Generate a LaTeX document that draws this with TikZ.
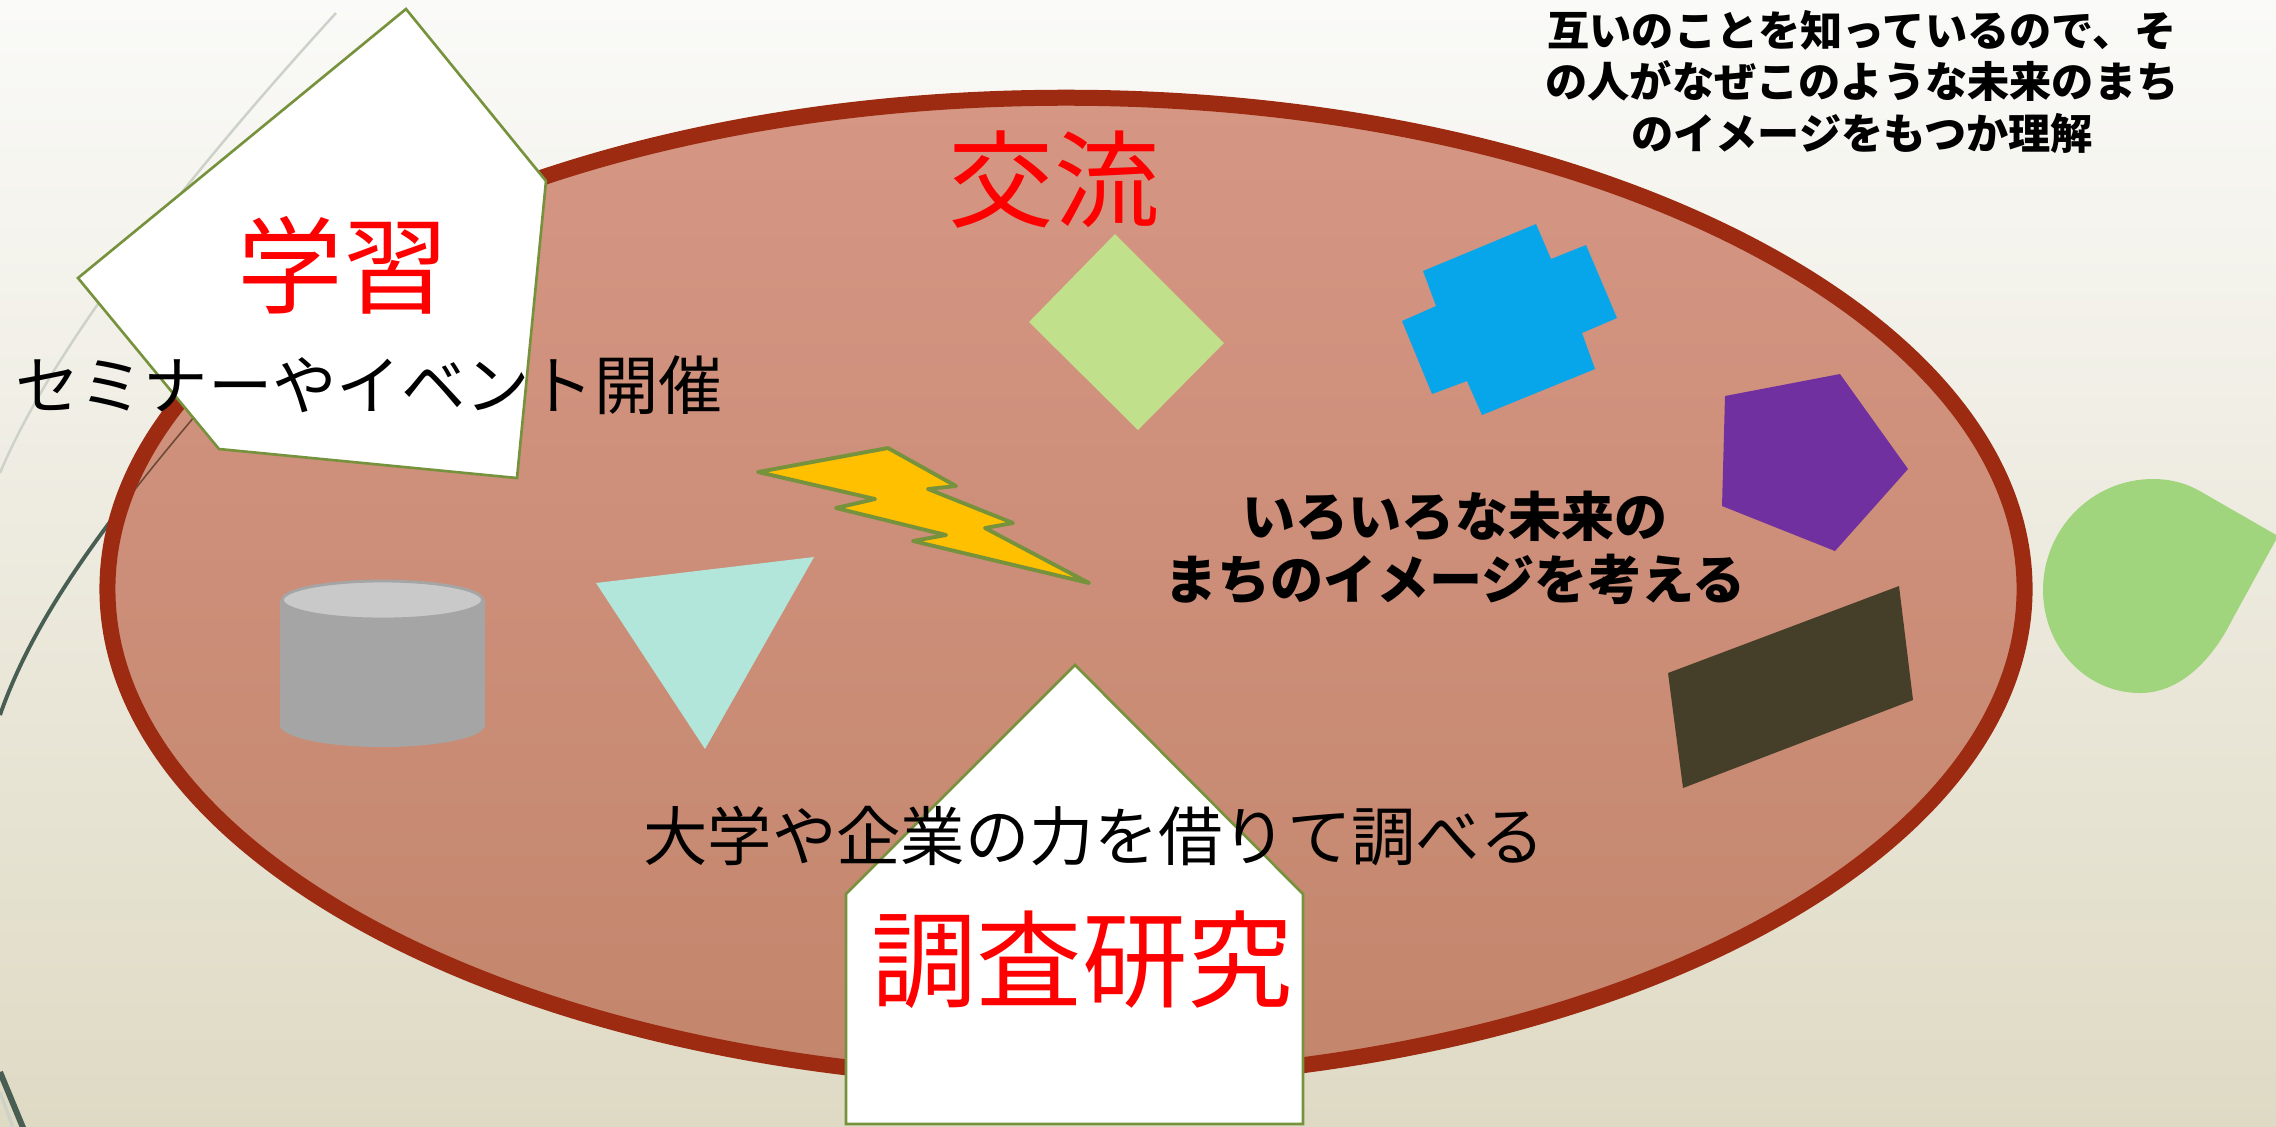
\documentclass[tikz,border=0pt]{standalone}
\usepackage{fontspec}
\setmainfont{Noto Sans CJK JP}
\definecolor{bgtop}{RGB}{250,250,248}
\definecolor{bgbot}{RGB}{223,218,196}
\definecolor{elltop}{RGB}{213,150,132}
\definecolor{ellbot}{RGB}{195,134,108}
\definecolor{ellstroke}{RGB}{156,43,17}
\definecolor{pgreen}{RGB}{118,146,60}
\definecolor{diamondc}{RGB}{193,224,139}
\definecolor{bluec}{RGB}{7,166,235}
\definecolor{purplec}{RGB}{112,48,160}
\definecolor{darkc}{RGB}{69,63,41}
\definecolor{tealc}{RGB}{179,230,218}
\definecolor{goldc}{RGB}{255,192,0}
\definecolor{cylbody}{RGB}{165,165,165}
\definecolor{cyltop}{RGB}{201,201,201}
\definecolor{teardropc}{RGB}{160,212,125}
\definecolor{curvedark}{RGB}{72,94,82}
\definecolor{curvelight}{RGB}{205,210,200}
\definecolor{curvebrown}{RGB}{110,72,56}
\tikzset{
  penta/.style={fill=white, draw=pgreen, line width=0.75pt, line join=miter},
  redlabel/.style={inner sep=0pt, text=red, font=\fontsize{30}{36}\selectfont},
  blacklabel/.style={inner sep=0pt, text=black, font=\fontsize{18.3}{22}\selectfont},
  midlabel/.style={inner sep=0pt, text=black, align=center, font=\bfseries\fontsize{15.1}{17.9}\selectfont},
  toplabel/.style={inner sep=0pt, text=black, align=center, font=\bfseries\fontsize{12}{14.65}\selectfont},
}
\begin{document}
\begin{tikzpicture}[x=0.01cm,y=-0.01cm]
\useasboundingbox (0,0) rectangle (2276,1126);
% background
\shade[top color=bgtop,bottom color=bgbot] (0,0) rectangle (2276,1126);
% decorative curves
\draw[curvelight, line width=0.7pt] (336,13) .. controls (220,140) and (60,330) .. (0,473);
\draw[curvedark, line width=1.1pt] (0,715) .. controls (40,600) and (130,490) .. (260,340);
\draw[curvelight, line width=0.9pt] (0,1092) -- (14,1130);
\draw[curvedark, line width=1.7pt] (0,1072) -- (24,1130);
% big ellipse
\draw[line width=4.55pt, draw=ellstroke, top color=elltop, bottom color=ellbot] (1066,589) ellipse [x radius=9.58cm, y radius=4.91cm];
\begin{scope}
  \clip (1066,589) ellipse [x radius=9.5cm, y radius=4.83cm];
  \draw[curvebrown, line width=0.45pt] (0,715) .. controls (40,600) and (130,490) .. (260,340);
\end{scope}
% shapes
\fill[diamondc] (1115,234) -- (1224,343) -- (1138,430) -- (1029,322) -- cycle;
\fill[bluec] (1536,224) -- (1551,259) -- (1586,245) -- (1617,318) -- (1582,333) -- (1595,369) -- (1482,415) -- (1467,381) -- (1432,394) -- (1402,321) -- (1436,306) -- (1423,271) -- cycle;
\fill[purplec] (1840,374) -- (1908,469) -- (1835,551) -- (1722,506) -- (1725,396) -- cycle;
\fill[darkc] (1899,586) -- (1913,700) -- (1683,788) -- (1668,673) -- cycle;
\fill[tealc] (596,583) -- (814,557) -- (705,749) -- cycle;
\filldraw[fill=goldc, draw=pgreen, line width=1.1pt, line join=round] (758,472) -- (888,448) -- (956,486) -- (928,489) -- (1013,523) -- (985,528) -- (1089,583) -- (913,541) -- (946,535) -- (836,508) -- (875,499) -- cycle;
% cylinder
\fill[cylbody] (280,600) rectangle (485,725);
\fill[cylbody] (382.5,725) ellipse [x radius=1.025cm, y radius=0.22cm];
\filldraw[fill=cyltop, draw=cylbody, line width=0.8pt] (382.5,600) ellipse [x radius=1.0cm, y radius=0.19cm];
% teardrop
\fill[teardropc] (2153,479) .. controls (2170,479) and (2185,483) .. (2198,490) -- (2278,536) -- (2232,620) .. controls (2212,660) and (2180,693) .. (2140,693) .. controls (2086,693) and (2043,647) .. (2043,590) .. controls (2043,529) and (2092,479) .. (2153,479) -- cycle;
% pentagons
\draw[penta] (406,9) -- (546,181) -- (517,478) -- (219,449) -- (78,278) -- cycle;
\draw[penta] (1075,665) -- (1303,894) -- (1303,1124) -- (846,1124) -- (846,894) -- cycle;
% texts
\node[redlabel] (xuexi) at (343,265) {学習};
\node[blacklabel] (seminar) at (369,385) {セミナーやイベント開催};
\node[redlabel] (koryu) at (1054,180) {交流};
\node[redlabel] (chosa) at (1082,960) {調査研究};
\node[blacklabel] (daigaku) at (1094,836) {大学や企業の力を借りて調べる};
\node[midlabel] (mid) at (1455,548) {いろいろな未来の\\まちのイメージを考える};
\node[toplabel] (topnote) at (1862,82) {互いのことを知っているので、そ\\の人がなぜこのような未来のまち\\のイメージをもつか理解};
\end{tikzpicture}
\end{document}
